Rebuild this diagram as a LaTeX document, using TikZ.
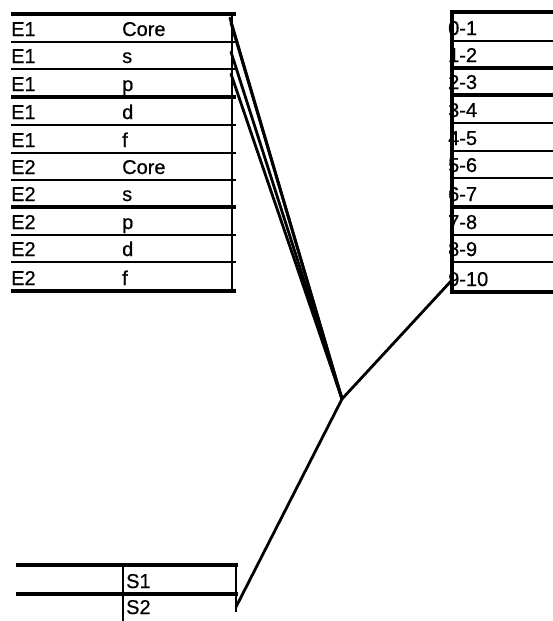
\documentclass[tikz,border=0pt]{standalone}
\usepackage{fontspec}
\setmainfont{Liberation Sans}
\newfontfamily\cellfont{Liberation Sans}[FakeBold=0.6]
\usetikzlibrary{positioning}
\tikzset{
  cell/.style={anchor=base west,inner sep=0pt,font=\cellfont\fontsize{20}{20}\selectfont},
  rule/.style={line width=2.6pt},
  heavy/.style={line width=4.6pt},
  wire/.style={line width=2.8pt,line cap=round},
}

\begin{document}
\begin{tikzpicture}[x=1pt,y=-1pt]
\useasboundingbox (0,0) rectangle (553,621);
% left table: atom and shell
\foreach \n/\e/\s/\b in {1/E1/Core/42,2/E1/s/69,3/E1/p/97,4/E1/d/125,5/E1/f/153,
                         6/E2/Core/180,7/E2/s/207,8/E2/p/235,9/E2/d/262,10/E2/f/291}{
  \node[cell] (atom\n) at (11,\b-6) {\e};
  \node[cell] (shell\n) at (122,\b-6) {\s};
}
\foreach \y/\w in {14/heavy,42/rule,69/rule,97/heavy,125/rule,153/rule,180/rule,207/heavy,235/rule,262/rule,291/heavy}
  \draw[\w] (11,\y) -- (236,\y);
\draw[rule] (232,13) -- (232,293);
% right table: ranges
\foreach \n/\t/\b in {1/0-1/41,2/1-2/68,3/2-3/95,4/3-4/123,5/4-5/151,
                      6/5-6/178,7/6-7/207,8/7-8/235,9/8-9/262,10/9-10/292}
  \node[cell] (bin\n) at (448,\b-6) {\t};
\foreach \y/\w in {12/heavy,41/rule,68/heavy,95/heavy,123/rule,151/rule,178/rule,207/heavy,235/rule,262/rule,292/heavy}
  \draw[\w] (452,\y) -- (553,\y);
\draw[line width=4.5pt] (452,10) -- (452,294);
% bottom table: sites
\node[cell] (site1) at (126,588) {S1};
\node[cell] (site2) at (126,614) {S2};
\draw[heavy] (16,565) -- (238,565);
\draw[heavy] (16,594) -- (238,594);
\draw[rule] (123,565) -- (123,621);
\draw[rule] (236,565) -- (236,612);
% connectors
\coordinate (hub) at (342,399);
\coordinate (coreE) at (230,18);
\coordinate (coreF) at (231,23);
\coordinate (sE) at (231,52);
\coordinate (pE) at (231,74);
\coordinate (lastbin) at (452,280);
\coordinate (s2E) at (236,607);
\foreach \c in {coreE,coreF,sE,pE}
  \draw[wire] (\c) -- (hub);
\draw[wire] (hub) -- (lastbin);
\draw[wire] (hub) -- (s2E);
\end{tikzpicture}
\end{document}
